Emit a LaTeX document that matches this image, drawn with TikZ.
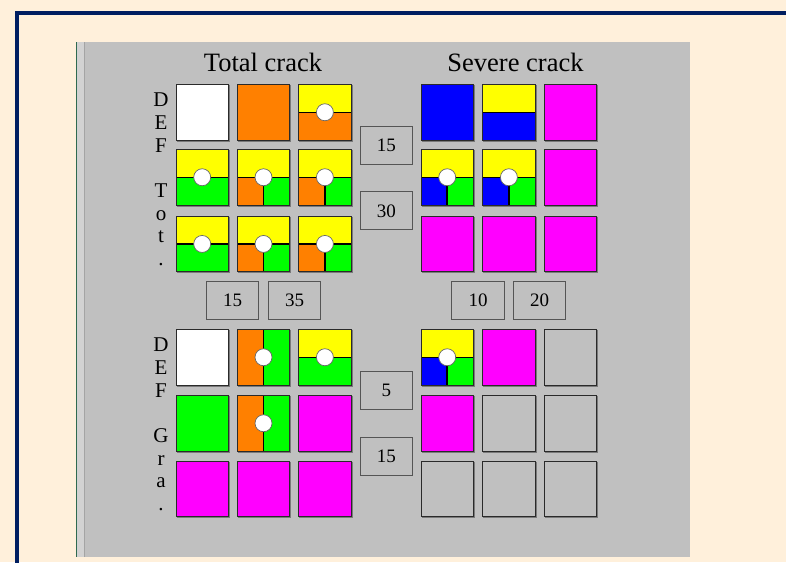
\documentclass[tikz,border=0pt]{standalone}
\usepackage{fontspec}
\setmainfont{Liberation Serif}
\definecolor{cream}{HTML}{FFF0DB}
\definecolor{navy}{HTML}{001E60}
\definecolor{panel}{HTML}{C0C0C0}
\definecolor{stripL}{HTML}{D2D2D2}
\definecolor{stripD}{HTML}{A4A4A4}
\definecolor{edgegreen}{HTML}{2F6A50}
\definecolor{cOr}{HTML}{FF8000}
\definecolor{cYe}{HTML}{FFFF00}
\definecolor{cGr}{HTML}{00FF00}
\definecolor{cBl}{HTML}{0000FF}
\definecolor{cMa}{HTML}{FF00FF}
\definecolor{tileedge}{HTML}{2A2A2A}
\definecolor{tileshadow}{HTML}{7A7A7A}
\definecolor{boxedge}{HTML}{555555}
\newcommand\tileborder[1]{%
  \draw[tileshadow,line width=1pt] ([xshift=1pt,yshift=-0.5pt]#1.north east) -- ([xshift=1pt,yshift=-1pt]#1.south east) -- ([xshift=0.5pt,yshift=-1pt]#1.south west);
  \draw[tileedge,line width=1pt] (#1.south west) rectangle (#1.north east);}
\newcommand\hole[1]{\node[holecirc] (#1h) at (#1.center) {};}
\newcommand\splitH[3]{%
  \fill[#2] (#1.north west) rectangle (#1.east);
  \fill[#3] (#1.west) rectangle (#1.south east);
  \draw[splitline] (#1.west) -- (#1.east);
  \tileborder{#1}}
\newcommand\splitHV[4]{%
  \fill[#2] (#1.north west) rectangle (#1.east);
  \fill[#3] (#1.west) rectangle (#1.south);
  \fill[#4] (#1.center) rectangle (#1.south east);
  \draw[splitline] (#1.west) -- (#1.east) (#1.center) -- (#1.south);
  \tileborder{#1}\hole{#1}}
\newcommand\splitV[3]{%
  \fill[#2] (#1.north west) rectangle (#1.south);
  \fill[#3] (#1.north) rectangle (#1.south east);
  \draw[splitline] (#1.north) -- (#1.south);
  \tileborder{#1}\hole{#1}}
\newcommand\plaintile[4]{\node[tile,fill=#4] (#1) at (#2,#3) {};\tileborder{#1}}
\begin{document}
\begin{tikzpicture}[x=1pt,y=-1pt,
  tile/.style={rectangle,anchor=north west,minimum width=52pt,minimum height=55.5pt,inner sep=0pt,draw=none},
  splitline/.style={black,line width=1.5pt},
  holecirc/.style={circle,fill=white,draw=black!60,line width=0.7pt,minimum size=17pt,inner sep=0pt},
  numbox/.style={rectangle,draw=boxedge,line width=1pt,minimum width=52.5pt,minimum height=38pt,inner sep=0pt,font=\fontsize{19}{19}\selectfont},
  title/.style={anchor=base,inner sep=0pt,font=\fontsize{26.5}{26.5}\selectfont},
  letter/.style={anchor=base,inner sep=0pt,font=\fontsize{21}{21}\selectfont}]
\useasboundingbox (0,0) rectangle (786,562);
\fill[cream] (0,0) rectangle (786,562);
\draw[navy,line width=4pt] (17,13) rectangle (820,600);
% panel
\fill[panel] (76,42) rectangle (690,556.7);
\fill[stripL] (76.5,42) rectangle (84,556.7);
\fill[stripD] (83.8,42) rectangle (85.2,556.7);
\fill[edgegreen] (75.8,42) rectangle (77,556.7);
% titles
\node[title] (ttot) at (263,71) {Total crack};
\node[title] (tsev) at (515.5,71) {Severe crack};
% side letters
\foreach \t/\yy [count=\i] in {D/106.7,E/129.4,F/152.1,T/197.5,o/220.2,t/242.9,./265.6}
  \node[letter] (la\i) at (161,\yy) {\t};
\foreach \t/\yy [count=\i] in {D/351.7,E/374.4,F/397.1,G/442.5,r/465.2,a/487.9,./510.6}
  \node[letter] (lb\i) at (161,\yy) {\t};
% ---------- top-left grid ----------
\plaintile{tl11}{176}{84.3}{white}
\plaintile{tl12}{237.3}{84.3}{cOr}
\node[tile] (tl13) at (298.7,84.3) {};\splitH{tl13}{cYe}{cOr}\hole{tl13}
\node[tile] (tl21) at (176,149.3) {};\splitH{tl21}{cYe}{cGr}\hole{tl21}
\node[tile] (tl22) at (237.3,149.3) {};\splitHV{tl22}{cYe}{cOr}{cGr}
\node[tile] (tl23) at (298.7,149.3) {};\splitHV{tl23}{cYe}{cOr}{cGr}
\node[tile] (tl31) at (176,216) {};\splitH{tl31}{cYe}{cGr}\hole{tl31}
\node[tile] (tl32) at (237.3,216) {};\splitHV{tl32}{cYe}{cOr}{cGr}
\node[tile] (tl33) at (298.7,216) {};\splitHV{tl33}{cYe}{cOr}{cGr}
% ---------- top-right grid ----------
\plaintile{tr11}{421}{84.3}{cBl}
\node[tile] (tr12) at (482.7,84.3) {};\splitH{tr12}{cYe}{cBl}
\plaintile{tr13}{544}{84.3}{cMa}
\node[tile] (tr21) at (421,149.3) {};\splitHV{tr21}{cYe}{cBl}{cGr}
\node[tile] (tr22) at (482.7,149.3) {};\splitHV{tr22}{cYe}{cBl}{cGr}
\plaintile{tr23}{544}{149.3}{cMa}
\plaintile{tr31}{421}{216}{cMa}
\plaintile{tr32}{482.7}{216}{cMa}
\plaintile{tr33}{544}{216}{cMa}
% ---------- bottom-left grid ----------
\plaintile{bl11}{176}{329.3}{white}
\node[tile] (bl12) at (237.3,329.3) {};\splitV{bl12}{cOr}{cGr}
\node[tile] (bl13) at (298.7,329.3) {};\splitH{bl13}{cYe}{cGr}\hole{bl13}
\plaintile{bl21}{176}{395.3}{cGr}
\node[tile] (bl22) at (237.3,395.3) {};\splitV{bl22}{cOr}{cGr}
\plaintile{bl23}{298.7}{395.3}{cMa}
\plaintile{bl31}{176}{461}{cMa}
\plaintile{bl32}{237.3}{461}{cMa}
\plaintile{bl33}{298.7}{461}{cMa}
% ---------- bottom-right grid ----------
\node[tile] (br11) at (421,329.3) {};\splitHV{br11}{cYe}{cBl}{cGr}
\plaintile{br12}{482.7}{329.3}{cMa}
\plaintile{br13}{544}{329.3}{panel}
\plaintile{br21}{421}{395.3}{cMa}
\plaintile{br22}{482.7}{395.3}{panel}
\plaintile{br23}{544}{395.3}{panel}
\plaintile{br31}{421}{461}{panel}
\plaintile{br32}{482.7}{461}{panel}
\plaintile{br33}{544}{461}{panel}
% ---------- number boxes ----------
\node[numbox] (nA) at (386.3,145.1) {15};
\node[numbox] (nB) at (386.3,210.8) {30};
\node[numbox] (nC) at (386.3,390.5) {5};
\node[numbox] (nD) at (386.3,456.2) {15};
\node[numbox] (nE) at (232.7,300.5) {15};
\node[numbox] (nF) at (294.5,300.5) {35};
\node[numbox] (nG) at (478,300.5) {10};
\node[numbox] (nH) at (539.7,300.5) {20};
\end{tikzpicture}
\end{document}
